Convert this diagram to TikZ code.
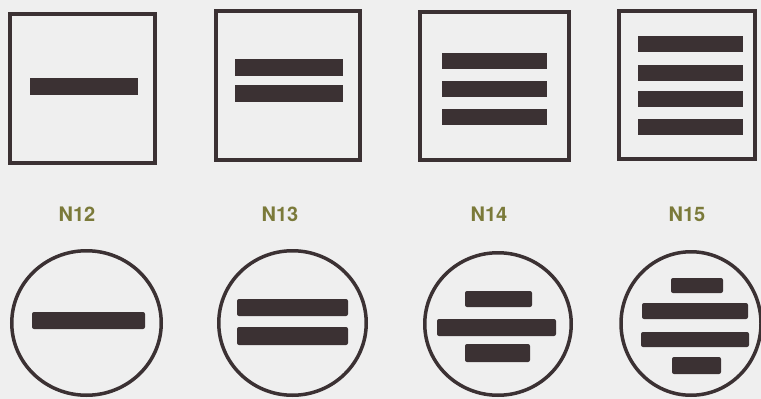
\documentclass[tikz,border=0pt]{standalone}
\usepackage{fontspec}
\setsansfont{TeX Gyre Heros}
\usetikzlibrary{shapes.geometric}
\definecolor{paper}{HTML}{EFEFEF}
\definecolor{ink}{HTML}{3B3133}
\definecolor{labelolive}{HTML}{7B7A3A}

\begin{document}
\begin{tikzpicture}[x=1pt, y=-1pt,
  frame/.style={draw=ink, line width=4pt, inner sep=0pt},
  ring/.style={draw=ink, line width=3.5pt, ellipse, inner sep=0pt},
  bar/.style={fill=ink},
  rbar/.style={fill=ink, rounded corners=2pt},
  lbl/.style={font=\sffamily\bfseries\fontsize{20}{20}\selectfont, text=labelolive, anchor=base}
]
\fill[paper] (0,0) rectangle (761,399);
\useasboundingbox (0,0) rectangle (761,399);
% square symbols
\node[frame, minimum width=145pt, minimum height=149pt] (sq12) at (82.5,88.5) {};
\node[frame, minimum width=144pt, minimum height=149pt] (sq13) at (288,85.5) {};
\node[frame, minimum width=149pt, minimum height=148pt] (sq14) at (494.5,86) {};
\node[frame, minimum width=136pt, minimum height=148pt] (sq15) at (687,85) {};
\foreach \xa/\ya/\xb/\yb in {30/78/138/95,
    235/59/343/76, 235/85/343/102,
    442/53/547/69, 442/81/547/97, 442/109/547/125,
    638/36/743/52, 638/65/743/81, 638/91/743/107, 638/119/743/135}
  \fill[bar] (\xa,\ya) rectangle (\xb,\yb);
% labels
\node[lbl] (n12) at (77,221) {N12};
\node[lbl] (n13) at (280,221) {N13};
\node[lbl] (n14) at (489,221) {N14};
\node[lbl] (n15) at (687,221) {N15};
% round symbols
\node[ring, minimum width=149.5pt, minimum height=144.5pt] (c12) at (86.5,323) {};
\node[ring, minimum width=147.5pt, minimum height=144.5pt] (c13) at (292.5,323) {};
\node[ring, minimum width=146.5pt, minimum height=142.5pt] (c14) at (498,324) {};
\node[ring, minimum width=140pt, minimum height=143.5pt] (c15) at (691,323.5) {};
\foreach \xa/\ya/\xb/\yb in {32/312/145/329,
    237/299/348/316, 237/327/348/345,
    465/291/532/307, 437/319/556/336, 465/344/530/362,
    671/278/723/293, 642/303/748/319, 641/332/749/347, 672/357/721/374}
  \fill[rbar] (\xa,\ya) rectangle (\xb,\yb);
\end{tikzpicture}
\end{document}
